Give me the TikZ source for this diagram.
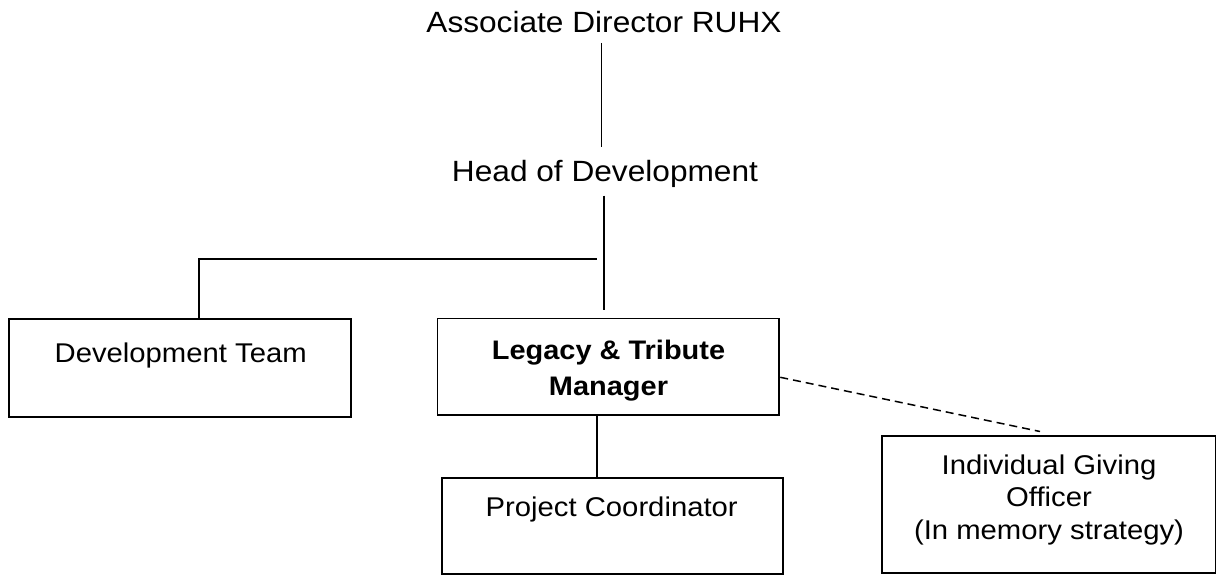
\documentclass[tikz,border=0pt]{standalone}
\usepackage{fontspec}
\setmainfont[FakeStretch=1.08]{Liberation Sans}
\begin{document}
\begin{tikzpicture}[x=1pt,y=-1pt,
  box/.style={draw, line width=1.9pt, inner sep=0pt},
  big/.style={inner sep=0pt, anchor=north, font=\fontsize{29.3}{34}\selectfont},
  lbl/.style={inner sep=0pt, anchor=north, align=center, font=\fontsize{27.1}{32.5}\selectfont},
  conn/.style={line width=1.6pt},
  dashconn/.style={line width=1.5pt, dash pattern=on 8pt off 5pt}
]
\useasboundingbox (0,0) rectangle (1222,576);
\node[big] (ad) at (604,11) {Associate Director RUHX};
\node[big] (hod) at (605,160) {Head of Development};
\node[box, minimum width=341.7pt, minimum height=97.4pt] (dev) at (180.2,368) {};
\node[box, minimum width=341.8pt, minimum height=96.2pt] (ltm) at (608.4,366.6) {};
\node[box, minimum width=341.6pt, minimum height=95.8pt] (pc) at (612.5,525.9) {};
\node[box, minimum width=333.8pt, minimum height=136.7pt] (igo) at (1048.6,504.4) {};
\node[lbl] (devt) at (180.7,343) {Development Team};
\node[lbl, font=\bfseries\fontsize{26.8}{35.5}\selectfont] (ltmt) at (608.5,340) {Legacy \& Tribute\\Manager};
\node[lbl] (pct) at (611.7,496.7) {Project Coordinator};
\node[lbl] (igot) at (1049,454.3) {Individual Giving\\Officer\\(In memory strategy)};
\draw[conn] ([xshift=-2.5pt,yshift=-10pt]ad.south) -- ([xshift=-3.5pt,yshift=13pt]hod.north);
\draw[conn] ([xshift=-1pt,yshift=-8pt]hod.south) -- ([xshift=-4.4pt,yshift=8pt]ltm.north);
\coordinate (br) at (596.5,259);
\draw[conn] (br) -| ([xshift=18.8pt]dev.north);
\draw[conn] ([xshift=-11.7pt]ltm.south) -- ([xshift=-15.8pt]pc.north);
\coordinate (dashend) at (1040,431.5);
\draw[dashconn] ([yshift=-10.7pt]ltm.east) -- (dashend);
\end{tikzpicture}
\end{document}
